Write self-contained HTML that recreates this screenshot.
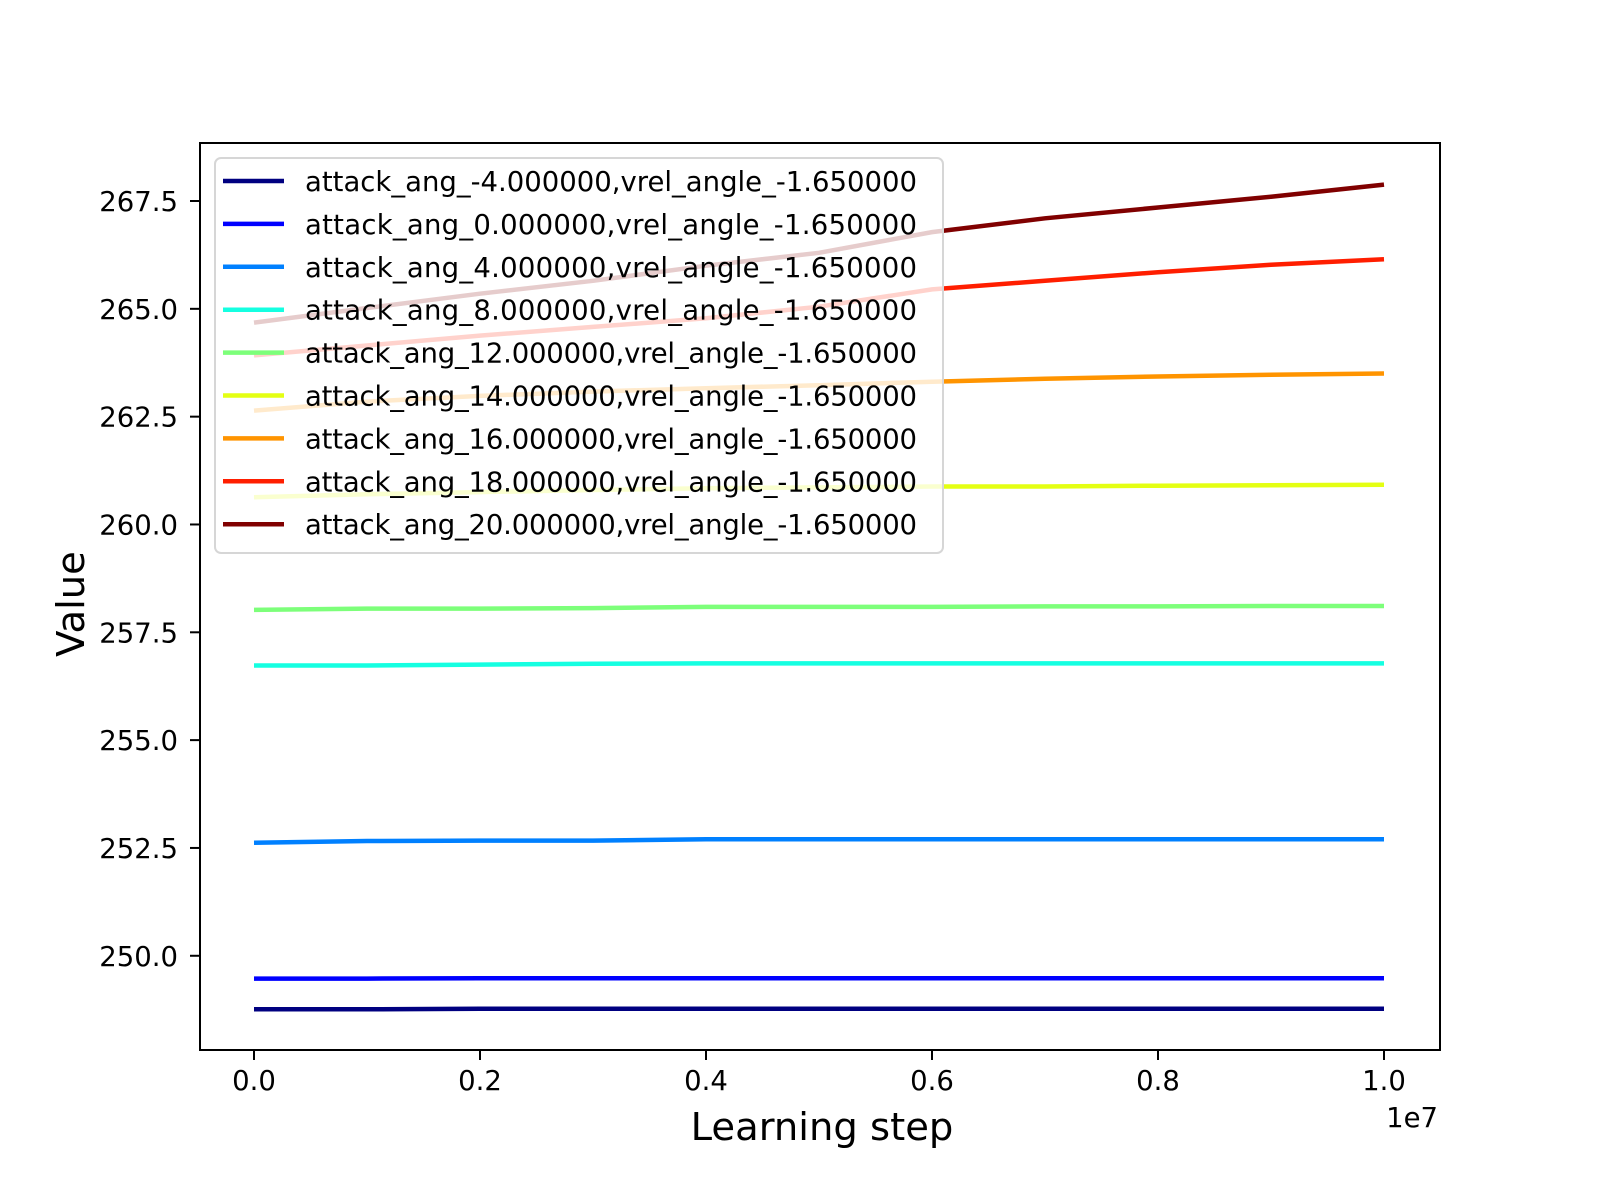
<!DOCTYPE html>
<html><head><meta charset="utf-8"><style>
body{margin:0;background:#fff}
svg{display:block;font-family:"DejaVu Sans","Liberation Sans",sans-serif}
</style></head><body>
<svg id="chart" width="1600" height="1200" viewBox="0 0 1600 1200" xmlns="http://www.w3.org/2000/svg">
<rect width="1600" height="1200" fill="#fff"/>
<g id="plot"></g>
<g id="axes"></g>
<g id="legend"></g>
</svg>
<script>
const xSteps = [0,0.1,0.2,0.3,0.4,0.5,0.6,0.7,0.8,0.9,1.0];
const seriesNames = ["attack_ang_-4.000000,vrel_angle_-1.650000","attack_ang_0.000000,vrel_angle_-1.650000","attack_ang_4.000000,vrel_angle_-1.650000","attack_ang_8.000000,vrel_angle_-1.650000","attack_ang_12.000000,vrel_angle_-1.650000","attack_ang_14.000000,vrel_angle_-1.650000","attack_ang_16.000000,vrel_angle_-1.650000","attack_ang_18.000000,vrel_angle_-1.650000","attack_ang_20.000000,vrel_angle_-1.650000"];
const seriesColors = ["#000080","#0000ff","#0080ff","#15ffe1","#7dff7a","#e4ff13","#ff9400","#ff1e00","#800000"];
const s0 = [248.76,248.76,248.77,248.77,248.77,248.77,248.77,248.77,248.77,248.77,248.77];
const s1 = [249.47,249.47,249.48,249.48,249.48,249.48,249.48,249.48,249.48,249.48,249.48];
const s2 = [252.62,252.66,252.67,252.67,252.70,252.70,252.70,252.70,252.70,252.70,252.70];
const s3 = [256.73,256.73,256.75,256.77,256.78,256.78,256.78,256.78,256.78,256.78,256.78];
const s4 = [258.02,258.05,258.05,258.06,258.09,258.09,258.09,258.10,258.10,258.11,258.11];
const s5 = [260.63,260.70,260.75,260.80,260.84,260.86,260.88,260.88,260.90,260.91,260.92];
const s6 = [262.64,262.85,262.98,263.08,263.16,263.23,263.31,263.38,263.43,263.47,263.50];
const s7 = [263.92,264.15,264.38,264.58,264.78,265.05,265.45,265.65,265.85,266.02,266.15];
const s8 = [264.68,265.02,265.35,265.65,266.00,266.30,266.78,267.10,267.35,267.60,267.88];
const seriesValues = [s0,s1,s2,s3,s4,s5,s6,s7,s8];
const yTicks = [250.0,252.5,255.0,257.5,260.0,262.5,265.0,267.5];
const yTickLabels = ["250.0","252.5","255.0","257.5","260.0","262.5","265.0","267.5"];
const xTicks = [0,0.2,0.4,0.6,0.8,1.0];
const xTickLabels = ["0.0","0.2","0.4","0.6","0.8","1.0"];

const L=200,R=1440,T=143,B=1050;
const xs=v=>254+v*1130;
const ys=v=>201+(267.5-v)*43.13;
const NS='http://www.w3.org/2000/svg';
function mk(tag,attrs,parent){const e=document.createElementNS(NS,tag);for(const k in attrs)e.setAttribute(k,attrs[k]);parent.appendChild(e);return e;}
const plot=document.getElementById('plot'),axes=document.getElementById('axes'),leg=document.getElementById('legend');
seriesValues.forEach((vals,i)=>{
  const d=vals.map((v,j)=>(j?'L':'M')+xs(xSteps[j]).toFixed(1)+','+ys(v).toFixed(1)).join(' ');
  const p=mk('path',{d:d,fill:'none',stroke:seriesColors[i],'stroke-width':4.5},plot);
  
  
});
const frame=mk('rect',{x:L,y:T,width:R-L,height:B-T,fill:'none',stroke:'#000','stroke-width':2},axes);


yTicks.forEach((v,i)=>{
  const y=ys(v);
  const t=mk('line',{x1:L-10,x2:L,y1:y,y2:y,stroke:'#000','stroke-width':2},axes);
  
  
  const tx=mk('text',{x:178,y:y+10,'text-anchor':'end','font-size':27.5},axes);
  tx.textContent=yTickLabels[i];
  
  
});
xTicks.forEach((v,i)=>{
  const x=xs(v);
  const t=mk('line',{x1:x,x2:x,y1:B,y2:B+10,stroke:'#000','stroke-width':2},axes);
  
  
  const tx=mk('text',{x:x,y:1090,'text-anchor':'middle','font-size':27.5},axes);
  tx.textContent=xTickLabels[i];
  
  
});
const off=mk('text',{x:1438,y:1127,'text-anchor':'end','font-size':27.5},axes);
off.textContent='1e7';


const xl=mk('text',{x:822,y:1140,'text-anchor':'middle','font-size':38.5},axes);
xl.textContent='Learning step';


const yl=mk('text',{x:0,y:0,'text-anchor':'middle','font-size':38.5,transform:'translate(84,604) rotate(-90)'},axes);
yl.textContent='Value';


const box=mk('rect',{x:215,y:158,width:728,height:395,rx:6,fill:'rgba(255,255,255,0.8)',stroke:'#d6d6d6','stroke-width':2},leg);


seriesNames.forEach((n,i)=>{
  const y=181+i*42.9;
  const g=mk('g',{},leg);
  
  
  mk('line',{x1:223,x2:284,y1:y,y2:y,stroke:seriesColors[i],'stroke-width':4.5},g);
  const t=mk('text',{x:305,y:y+10,'font-size':27.5,textLength:n.length>41?629:612},g);
  t.textContent=n;
});
</script>
</body></html>
